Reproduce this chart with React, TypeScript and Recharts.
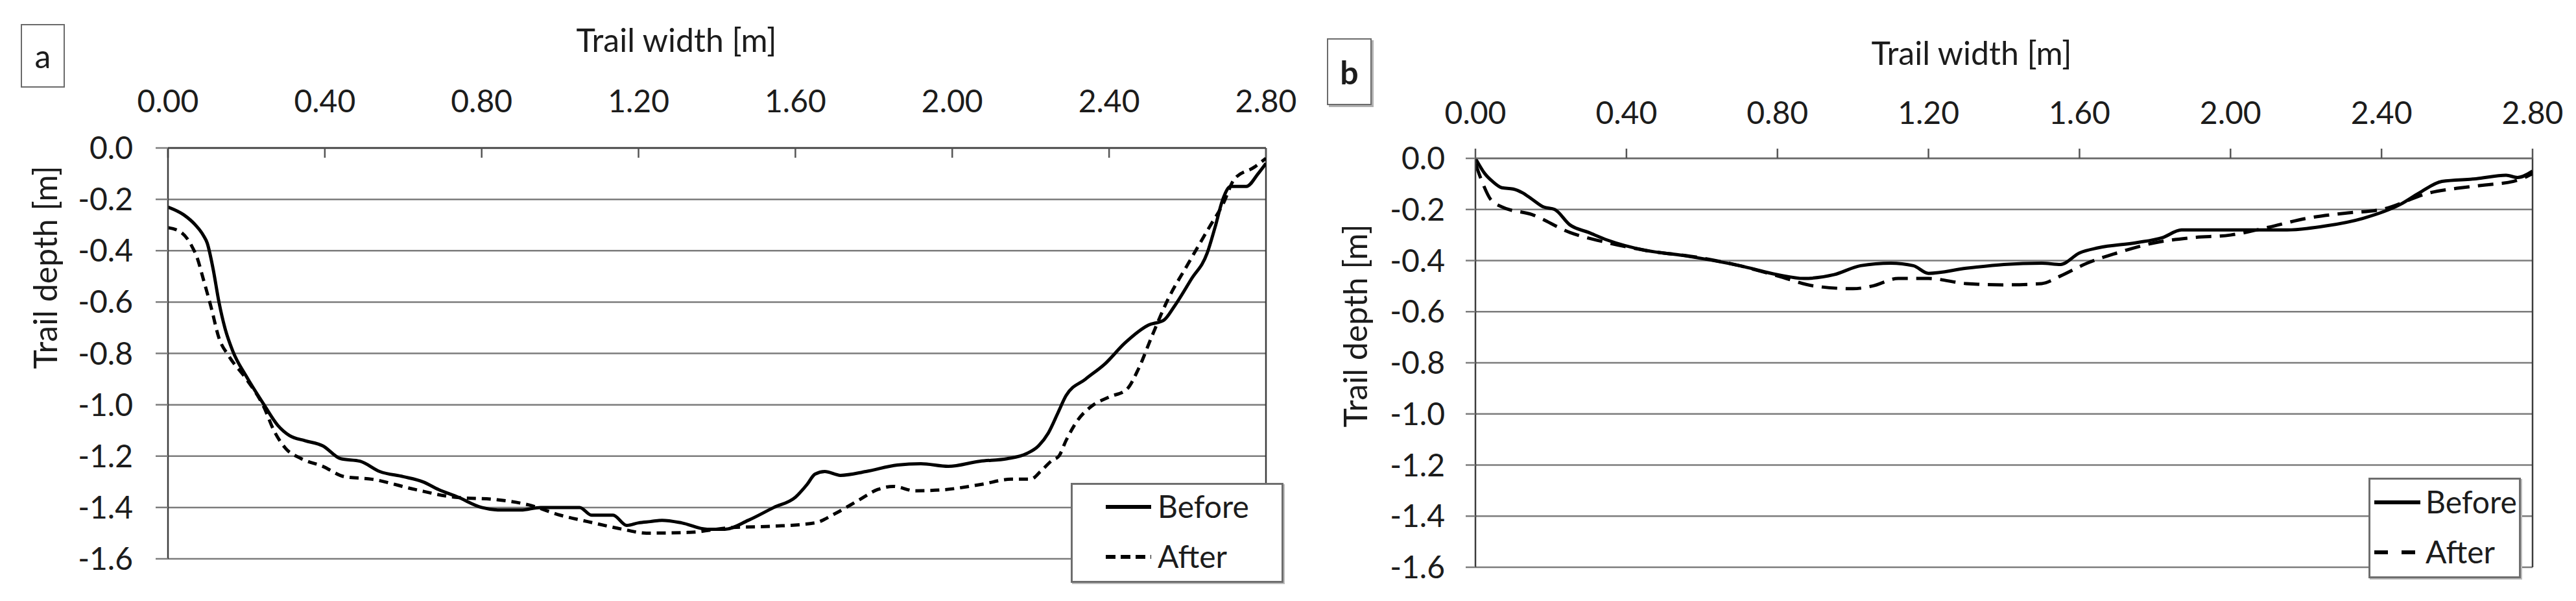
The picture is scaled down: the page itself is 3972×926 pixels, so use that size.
import React from 'react';
import { LineChart, Line, XAxis, YAxis, CartesianGrid, Legend, ReferenceLine } from 'recharts';

// ---------- axes ----------
const widthTicks = [0, 0.4, 0.8, 1.2, 1.6, 2.0, 2.4, 2.8];
const depthTicks = [-1.6, -1.4, -1.2, -1.0, -0.8, -0.6, -0.4, -0.2, 0];
const seriesNames = ['Before', 'After'];
const panelLabels = ['a', 'b'];
const xTitle = 'Trail width [m]';
const yTitle = 'Trail depth [m]';

// ---------- panel a ----------
const aBeforeX = [0.0, 0.04, 0.07, 0.09, 0.1, 0.115, 0.13, 0.145, 0.165, 0.2, 0.245, 0.28, 0.31, 0.35, 0.395, 0.44, 0.49, 0.54, 0.6, 0.65, 0.69, 0.74, 0.8, 0.85, 0.9, 0.95, 0.99, 1.05, 1.08, 1.135, 1.17, 1.2, 1.23, 1.26, 1.31, 1.375, 1.42, 1.48, 1.545, 1.6, 1.63, 1.65, 1.675, 1.715, 1.78, 1.86, 1.92, 1.99, 2.07, 2.14, 2.19, 2.22, 2.245, 2.27, 2.29, 2.34, 2.39, 2.44, 2.5, 2.54, 2.565, 2.61, 2.65, 2.67, 2.69, 2.71, 2.75, 2.78, 2.8];
const aBeforeY = [-0.23, -0.26, -0.3, -0.34, -0.37, -0.47, -0.6, -0.7, -0.79, -0.89, -1.0, -1.08, -1.12, -1.14, -1.16, -1.21, -1.22, -1.26, -1.28, -1.3, -1.33, -1.36, -1.4, -1.41, -1.41, -1.4, -1.4, -1.4, -1.43, -1.43, -1.47, -1.46, -1.455, -1.45, -1.46, -1.485, -1.485, -1.45, -1.4, -1.36, -1.31, -1.27, -1.26, -1.275, -1.26, -1.235, -1.23, -1.24, -1.22, -1.21, -1.19, -1.16, -1.11, -1.03, -0.965, -0.9, -0.84, -0.76, -0.69, -0.67, -0.62, -0.51, -0.41, -0.31, -0.2, -0.15, -0.15, -0.1, -0.06];
const aAfterX = [0.0, 0.035, 0.06, 0.075, 0.09, 0.11, 0.13, 0.155, 0.2, 0.245, 0.27, 0.3, 0.34, 0.395, 0.45, 0.52, 0.63, 0.73, 0.84, 0.92, 1.0, 1.07, 1.16, 1.22, 1.33, 1.44, 1.545, 1.65, 1.7, 1.76, 1.81, 1.85, 1.905, 1.97, 2.075, 2.15, 2.2, 2.225, 2.255, 2.272, 2.29, 2.32, 2.355, 2.4, 2.445, 2.475, 2.51, 2.55, 2.6, 2.655, 2.69, 2.72, 2.77, 2.8];
const aAfterY = [-0.31, -0.33, -0.38, -0.43, -0.51, -0.62, -0.74, -0.81, -0.9, -1.01, -1.1, -1.17, -1.21, -1.24, -1.28, -1.29, -1.33, -1.36, -1.37, -1.39, -1.43, -1.455, -1.485, -1.5, -1.497, -1.478, -1.473, -1.46, -1.425, -1.373, -1.33, -1.318, -1.335, -1.332, -1.31, -1.29, -1.29, -1.26, -1.216, -1.2, -1.14, -1.06, -1.006, -0.97, -0.94, -0.86, -0.73, -0.59, -0.455, -0.31, -0.22, -0.12, -0.075, -0.04];

// ---------- panel b ----------
const bBeforeX = [0.0, 0.025, 0.045, 0.07, 0.1, 0.125, 0.15, 0.18, 0.21, 0.25, 0.3, 0.35, 0.45, 0.55, 0.7, 0.8, 0.87, 0.95, 1.02, 1.1, 1.16, 1.2, 1.3, 1.4, 1.5, 1.55, 1.6, 1.65, 1.75, 1.82, 1.87, 2.0, 2.15, 2.25, 2.35, 2.45, 2.5, 2.56, 2.65, 2.73, 2.76, 2.8];
const bBeforeY = [0.0, -0.06, -0.09, -0.115, -0.12, -0.135, -0.16, -0.19, -0.2, -0.26, -0.29, -0.32, -0.36, -0.38, -0.42, -0.455, -0.47, -0.455, -0.42, -0.41, -0.42, -0.45, -0.43, -0.415, -0.41, -0.415, -0.37, -0.35, -0.33, -0.31, -0.28, -0.28, -0.28, -0.265, -0.235, -0.18, -0.135, -0.09, -0.08, -0.066, -0.075, -0.05];
const bAfterX = [0.0, 0.02, 0.04, 0.07, 0.15, 0.25, 0.35, 0.45, 0.6, 0.7, 0.8, 0.9, 1.0, 1.05, 1.12, 1.2, 1.3, 1.4, 1.5, 1.55, 1.62, 1.7, 1.8, 1.9, 2.0, 2.1, 2.2, 2.3, 2.4, 2.53, 2.6, 2.675, 2.75, 2.8];
const bAfterY = [-0.02, -0.1, -0.16, -0.19, -0.22, -0.29, -0.33, -0.36, -0.39, -0.42, -0.46, -0.5, -0.51, -0.5, -0.47, -0.47, -0.49, -0.495, -0.49, -0.46, -0.41, -0.37, -0.33, -0.31, -0.3, -0.27, -0.235, -0.215, -0.2, -0.134, -0.117, -0.104, -0.09, -0.06];

const toRows = (xs: number[], ys: number[]) => xs.map((x, i) => ({ x, y: ys[i] }));

const FONT = 'Lato, "Open Sans", sans-serif';
const TXT = '#1c1c1c';
const GRID = '#7c7c7c';
const AXIS = '#3c3c3c';

type LegendRow = { name: string; dash?: string; cy: number };
type PanelCfg = {
  width: number;
  height: number;
  margin: { top: number; right: number; bottom: number; left: number };
  before: { x: number; y: number }[];
  after: { x: number; y: number }[];
  afterDash: string;
  xTickSize: number;
  xTickMargin: number;
  yTickSize: number;
  yTickMargin: number;
  xTitle: { x: number; y: number };
  yTitle: { x: number; y: number };
  legend: { left: number; top: number; w: number; h: number; lineX1: number; lineX2: number; textX: number; rows: LegendRow[] };
  topAxisColor: string;
};

const LegendBox = ({ cfg }: { cfg: PanelCfg['legend'] }) => (
  <div
    style={{
      width: cfg.w,
      height: cfg.h,
      boxSizing: 'border-box',
      border: '3px solid #6e6e6e',
      background: '#fff',
      boxShadow: '2px 2px 0 #bdbdbd',
    }}
  >
    <svg width={cfg.w - 6} height={cfg.h - 6} style={{ display: 'block' }}>
      {cfg.rows.map((r) => (
        <g key={r.name}>
          <line
            x1={cfg.lineX1 - 3}
            x2={cfg.lineX2 - 3}
            y1={r.cy - 3}
            y2={r.cy - 3}
            stroke="#000"
            strokeWidth={6}
            strokeDasharray={r.dash}
          />
          <text x={cfg.textX - 3} y={r.cy - 3 + 17} fontFamily={FONT} fontSize={48} fill={TXT}>
            {r.name}
          </text>
        </g>
      ))}
    </svg>
  </div>
);

const Panel = ({ cfg }: { cfg: PanelCfg }) => (
  <LineChart width={cfg.width} height={cfg.height} margin={cfg.margin}>
    <CartesianGrid vertical={false} stroke={GRID} strokeWidth={2.5} />
    <XAxis
      dataKey="x"
      type="number"
      orientation="top"
      domain={[0, 2.8]}
      ticks={widthTicks}
      interval={0}
      allowDataOverflow
      height={60}
      tickFormatter={(v: number) => v.toFixed(2)}
      tick={{ fontFamily: FONT, fontSize: 48, fill: TXT }}
      tickSize={cfg.xTickSize}
      tickMargin={cfg.xTickMargin}
      tickLine={{ stroke: '#555', strokeWidth: 2.5 }}
      axisLine={{ stroke: cfg.topAxisColor, strokeWidth: 2.5 }}
      label={{
        content: () => (
          <text x={cfg.xTitle.x} y={cfg.xTitle.y} textAnchor="middle" fontFamily={FONT} fontSize={50} fill={TXT}>
            {xTitle}
          </text>
        ),
      }}
    />
    <YAxis
      dataKey="y"
      type="number"
      domain={[-1.6, 0]}
      ticks={depthTicks}
      interval={0}
      allowDataOverflow
      width={100}
      tickFormatter={(v: number) => v.toFixed(1)}
      tick={{ fontFamily: FONT, fontSize: 48, fill: TXT }}
      tickSize={cfg.yTickSize}
      tickMargin={cfg.yTickMargin}
      tickLine={{ stroke: GRID, strokeWidth: 2.5 }}
      axisLine={{ stroke: AXIS, strokeWidth: 2.5 }}
      label={{
        content: () => (
          <text
            x={cfg.yTitle.x}
            y={cfg.yTitle.y}
            transform={`rotate(-90, ${cfg.yTitle.x}, ${cfg.yTitle.y})`}
            textAnchor="middle"
            fontFamily={FONT}
            fontSize={50}
            fill={TXT}
          >
            {yTitle}
          </text>
        ),
      }}
    />
    <ReferenceLine x={2.8} stroke={AXIS} strokeWidth={2.5} />
    <Line
      data={cfg.before}
      dataKey="y"
      name={seriesNames[0]}
      type="monotone"
      stroke="#000"
      strokeWidth={5}
      dot={false}
      activeDot={false}
      isAnimationActive={false}
    />
    <Line
      data={cfg.after}
      dataKey="y"
      name={seriesNames[1]}
      type="monotone"
      stroke="#000"
      strokeWidth={5}
      strokeDasharray={cfg.afterDash}
      dot={false}
      activeDot={false}
      isAnimationActive={false}
    />
    <Legend
      layout="vertical"
      align="center"
      verticalAlign="middle"
      wrapperStyle={{ left: cfg.legend.left, top: cfg.legend.top, width: cfg.legend.w, height: cfg.legend.h, bottom: 'auto', right: 'auto' }}
      content={() => <LegendBox cfg={cfg.legend} />}
    />
  </LineChart>
);

const panelA: PanelCfg = {
  width: 2000,
  height: 926,
  margin: { top: 168, right: 48, bottom: 65, left: 159 },
  before: toRows(aBeforeX, aBeforeY),
  after: toRows(aAfterX, aAfterY),
  afterDash: '14 9',
  xTickSize: -15,
  xTickMargin: 70,
  yTickSize: 19,
  yTickMargin: 35,
  xTitle: { x: 1043, y: 80 },
  yTitle: { x: 88, y: 412 },
  topAxisColor: AXIS,
  legend: {
    left: 1651,
    top: 744,
    w: 328,
    h: 154,
    lineX1: 54,
    lineX2: 124,
    textX: 134,
    rows: [
      { name: seriesNames[0], cy: 37 },
      { name: seriesNames[1], cy: 114, dash: '15 8' },
    ],
  },
};

const panelB: PanelCfg = {
  width: 1972,
  height: 926,
  margin: { top: 184, right: 67, bottom: 52, left: 175 },
  before: toRows(bBeforeX, bBeforeY),
  after: toRows(bAfterX, bAfterY),
  afterDash: '24 13',
  xTickSize: 15,
  xTickMargin: 38,
  yTickSize: 15,
  yTickMargin: 32,
  xTitle: { x: 1040, y: 100 },
  yTitle: { x: 108, y: 502 },
  topAxisColor: '#6a6a6a',
  legend: {
    left: 1652,
    top: 736,
    w: 235,
    h: 155,
    lineX1: 9,
    lineX2: 80,
    textX: 88,
    rows: [
      { name: seriesNames[0], cy: 38 },
      { name: seriesNames[1], cy: 115, dash: '21 21' },
    ],
  },
};

const boxStyle = (left: number, top: number, w: number, h: number, bold: boolean): React.CSSProperties => ({
  position: 'absolute',
  left,
  top,
  width: w,
  height: h,
  boxSizing: 'border-box',
  border: '2px solid #6a6a6a',
  boxShadow: bold ? '3px 3px 0 #b0b0b0' : 'none',
  display: 'flex',
  alignItems: 'center',
  justifyContent: 'center',
  fontFamily: FONT,
  fontSize: 50,
  fontWeight: bold ? 700 : 400,
  color: TXT,
  lineHeight: 1,
  background: '#fff',
});

export default function App() {
  return (
    <div style={{ position: 'absolute', left: 0, top: 0, width: 3972, height: 926, background: '#fff', overflow: 'hidden' }}>
      <div style={{ position: 'absolute', left: 0, top: 0 }}>
        <Panel cfg={panelA} />
      </div>
      <div style={{ position: 'absolute', left: 2000, top: 0 }}>
        <Panel cfg={panelB} />
      </div>
      <div style={boxStyle(32, 37, 68, 98, false)}>{panelLabels[0]}</div>
      <div style={boxStyle(2046, 59, 69, 103, true)}>{panelLabels[1]}</div>
    </div>
  );
}
